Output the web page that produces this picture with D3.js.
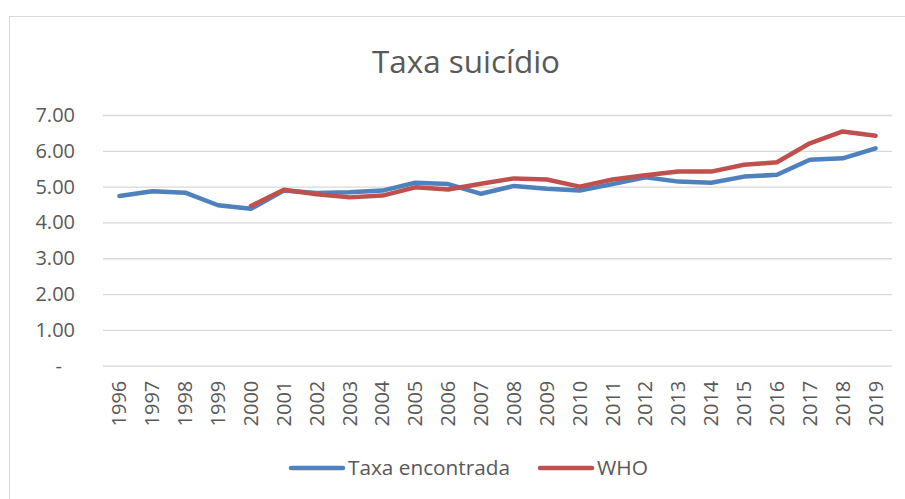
<!DOCTYPE html>
<html>
<head>
<meta charset="utf-8">
<script src="https://cdn.jsdelivr.net/npm/d3@7"></script>
<style>
  body { margin: 0; background: #fff; }
  svg { display: block; font-family: "Open Sans", sans-serif; }
</style>
</head>
<body>
<svg id="chart" width="905" height="499"></svg>
<script>
const years = ["1996","1997","1998","1999","2000","2001","2002","2003","2004","2005","2006","2007",
               "2008","2009","2010","2011","2012","2013","2014","2015","2016","2017","2018","2019"];
const taxaEncontrada = [4.74, 4.87, 4.83, 4.48, 4.38, 4.89, 4.82, 4.84, 4.89, 5.11, 5.07, 4.80,
                        5.02, 4.94, 4.89, 5.07, 5.26, 5.14, 5.11, 5.28, 5.33, 5.75, 5.79, 6.07];
const who = [null, null, null, null, 4.46, 4.91, 4.79, 4.70, 4.75, 4.98, 4.92, 5.08,
             5.23, 5.20, 5.00, 5.20, 5.32, 5.42, 5.42, 5.61, 5.68, 6.21, 6.54, 6.42];
const yTicks = [0, 1, 2, 3, 4, 5, 6, 7];
const seriesNames = ["Taxa encontrada", "WHO"];
const seriesColors = ["#4F81BD", "#C0504D"];

const svg = d3.select("#chart");
const textColor = "#595959";
const gridColor = "#d9d9d9";

// chart frame
svg.append("rect")
    .attr("x", 9.5).attr("y", 16.5)
    .attr("width", 920).attr("height", 520)
    .attr("fill", "none").attr("stroke", gridColor).attr("stroke-width", 1);

let margin = {left: 103, right: 892, top: 115, bottom: 365.7};

let x = d3.scaleBand().domain(years).range([margin.left, margin.right]);
let y = d3.scaleLinear().domain([0, 7]).range([margin.bottom, margin.top]);

// title
svg.append("text")
    .attr("x", 466).attr("y", 72.5)
    .attr("text-anchor", "middle")
    .attr("fill", textColor)
    .attr("font-size", 31)
    .attr("textLength", 188)
    .attr("lengthAdjust", "spacingAndGlyphs")
    .text("Taxa suicídio");

// grid + y labels
let yAxis = svg.append("g")
    .attr("transform", "translate(" + margin.left + ",0)")
    .call(d3.axisLeft(y).tickValues(yTicks)
        .tickSize(-(margin.right - margin.left))
        .tickPadding(28)
        .tickFormat(d => d === 0 ? "-" : d3.format(".2f")(d)));
yAxis.select(".domain").remove();
yAxis.selectAll(".tick line").attr("stroke", gridColor).attr("stroke-width", 1.3);
yAxis.selectAll(".tick text")
    .attr("fill", textColor).attr("font-size", 20)
    .attr("font-family", "Open Sans, sans-serif");
yAxis.selectAll(".tick text").filter(d => d === 0).attr("dx", -13);

// x labels
let xAxis = svg.append("g")
    .attr("transform", "translate(0," + margin.bottom + ")")
    .call(d3.axisBottom(x).tickSize(0).tickPadding(0));
xAxis.select(".domain").remove();
xAxis.selectAll(".tick text")
    .attr("fill", textColor).attr("font-size", 20)
    .attr("font-family", "Open Sans, sans-serif")
    .attr("transform", "rotate(-90)")
    .attr("text-anchor", "end")
    .attr("x", -15).attr("y", 0).attr("dy", "0.35em");

// lines
let line = d3.line()
    .defined(d => d != null)
    .x((d, i) => x(years[i]) + x.bandwidth() / 2)
    .y(d => y(d));

[taxaEncontrada, who].forEach(function(series, k) {
    svg.append("path")
        .datum(series)
        .attr("fill", "none")
        .attr("stroke", seriesColors[k])
        .attr("stroke-width", 4.5)
        .attr("stroke-linejoin", "round")
        .attr("stroke-linecap", "round")
        .attr("d", line);
});

// legend
let legendX = [289, 538];
let legendLen = [162, 51];
seriesNames.forEach(function(name, k) {
    let g = svg.append("g").attr("transform", "translate(" + legendX[k] + ",468)");
    g.append("line")
        .attr("x1", 2).attr("x2", 54)
        .attr("stroke", seriesColors[k]).attr("stroke-width", 4.5)
        .attr("stroke-linecap", "round");
    g.append("text")
        .attr("x", 59).attr("y", 0).attr("dy", "0.35em")
        .attr("fill", textColor).attr("font-size", 20)
        .attr("textLength", legendLen[k])
        .attr("lengthAdjust", "spacingAndGlyphs")
        .text(name);
});
</script>
</body>
</html>
